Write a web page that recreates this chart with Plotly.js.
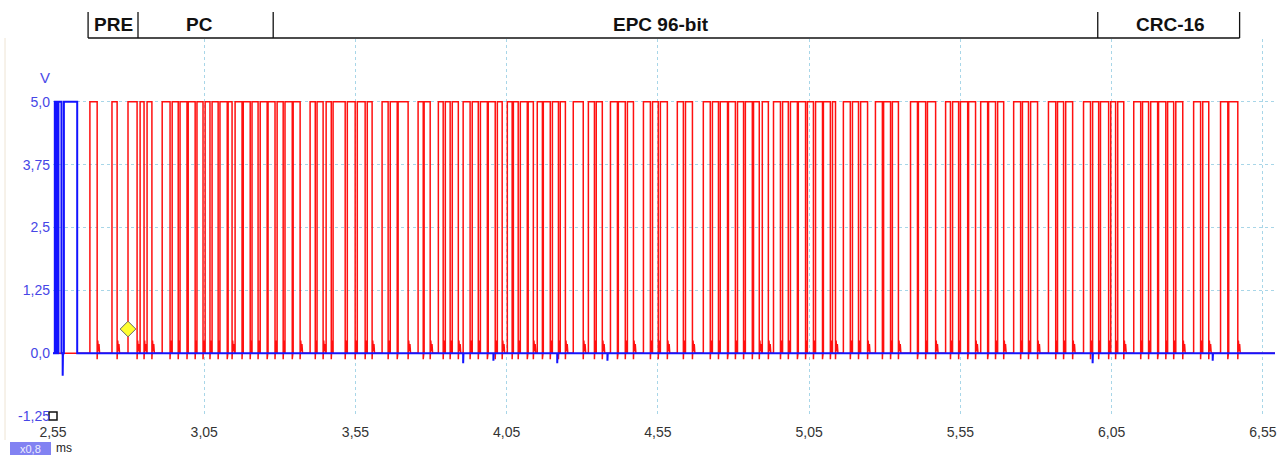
<!DOCTYPE html>
<html>
<head>
<meta charset="utf-8">
<script src="https://cdn.plot.ly/plotly-3.0.1.min.js"></script>
<style>html,body{margin:0;padding:0;background:#fff;}#chart{width:1284px;height:456px;}</style>
</head>
<body>
<div id="chart"></div>
<script>
// ---- data read from the capture (time in ms, level in V) ----
const redRise = [2.672, 2.745, 2.798, 2.838, 2.861, 2.911, 2.944, 2.970, 2.997, 3.026,
  3.053, 3.076, 3.102, 3.129, 3.152, 3.179, 3.208, 3.235, 3.261, 3.291,
  3.317, 3.344, 3.400, 3.423, 3.453, 3.476, 3.523, 3.556, 3.589, 3.638,
  3.665, 3.691, 3.757, 3.777, 3.824, 3.847, 3.870, 3.906, 3.936, 3.963,
  3.989, 4.019, 4.052, 4.072, 4.095, 4.121, 4.151, 4.171, 4.201, 4.227,
  4.270, 4.320, 4.346, 4.393, 4.419, 4.449, 4.502, 4.532, 4.558, 4.614,
  4.641, 4.700, 4.730, 4.756, 4.783, 4.813, 4.839, 4.866, 4.895, 4.932,
  4.962, 4.988, 5.014, 5.044, 5.071, 5.097, 5.127, 5.163, 5.193, 5.220,
  5.269, 5.296, 5.325, 5.385, 5.411, 5.441, 5.501, 5.524, 5.550, 5.577,
  5.617, 5.643, 5.673, 5.726, 5.755, 5.782, 5.841, 5.871, 5.898, 5.957,
  5.987, 6.013, 6.047, 6.070, 6.123, 6.152, 6.179, 6.205, 6.235, 6.262,
  6.321, 6.351, 6.410, 6.437];
const redFall = [2.696, 2.762, 2.828, 2.851, 2.877, 2.937, 2.964, 2.993, 3.020, 3.046,
  3.069, 3.096, 3.126, 3.142, 3.175, 3.202, 3.228, 3.258, 3.284, 3.311,
  3.341, 3.367, 3.417, 3.443, 3.470, 3.516, 3.549, 3.582, 3.605, 3.658,
  3.688, 3.724, 3.774, 3.797, 3.840, 3.863, 3.890, 3.929, 3.956, 3.986,
  4.012, 4.035, 4.068, 4.088, 4.118, 4.138, 4.168, 4.194, 4.221, 4.244,
  4.303, 4.340, 4.366, 4.416, 4.442, 4.469, 4.525, 4.551, 4.581, 4.634,
  4.664, 4.723, 4.750, 4.780, 4.806, 4.833, 4.862, 4.885, 4.915, 4.955,
  4.981, 5.011, 5.038, 5.064, 5.094, 5.120, 5.137, 5.186, 5.213, 5.243,
  5.292, 5.319, 5.345, 5.408, 5.435, 5.468, 5.517, 5.544, 5.574, 5.600,
  5.640, 5.666, 5.693, 5.749, 5.775, 5.805, 5.865, 5.891, 5.921, 5.980,
  6.007, 6.040, 6.063, 6.090, 6.146, 6.172, 6.202, 6.229, 6.255, 6.285,
  6.344, 6.371, 6.434, 6.467];
const highLevel = 5.0;

const blueRise = [2.556, 2.568, 2.586];
const blueFall = [2.562, 2.578, 2.630];
const blueSpikeT = [2.582, 3.906, 4.006, 4.217, 4.383, 5.987, 6.384];
const blueSpikeV = [-0.45, -0.2, -0.15, -0.2, -0.15, -0.2, -0.15];

const markerT = [2.798];
const markerV = [0.48];

const segStart = [2.666, 2.831, 3.278, 6.004];
const segEnd   = [2.831, 3.278, 6.004, 6.473];
const segLabels = ['PRE', 'PC', 'EPC 96-bit', 'CRC-16'];
const segLabelT = [2.749, 3.033, 4.561, 6.245];

const xTickVals = [2.55, 3.05, 3.55, 4.05, 4.55, 5.05, 5.55, 6.05, 6.55];
const xTickText = ['2,55', '3,05', '3,55', '4,05', '4,55', '5,05', '5,55', '6,05', '6,55'];
const yTickVals = [-1.25, 0, 1.25, 2.5, 3.75, 5.0, 6.25];
const yTickText = ['-1,25', '0,0', '1,25', '2,5', '3,75', '5,0', ''];

const xMin = 2.55, xMax = 6.59, yMin = -1.25, yMax = 6.25;

// ---- build step traces ----
function buildRed() {
  const x = [xMin], y = [0];
  for (let i = 0; i < redRise.length; i++) {
    const r = redRise[i], f = redFall[i];
    x.push(r, r, f, f); y.push(0, highLevel, highLevel, 0);
    const next = i + 1 < redRise.length ? redRise[i + 1] : xMax;
    // small settling ripple after the falling edge
    const tail = [[0, -0.12], [0.002, 0.25], [0.004, 0.04], [0.006, 0.18], [0.008, 0]];
    tail.forEach(([dt, v]) => { if (f + dt < next - 0.0015) { x.push(f + dt); y.push(v); } });
    x.push(Math.min(f + 0.009, next - 0.001)); y.push(0);
  }
  x.push(xMax); y.push(0);
  return {x, y};
}
function buildBlue() {
  const ev = [];
  for (let i = 0; i < blueRise.length; i++) ev.push({t: blueRise[i], kind: 'p', e: blueFall[i]});
  for (let i = 0; i < blueSpikeT.length; i++) ev.push({t: blueSpikeT[i], kind: 's', v: blueSpikeV[i]});
  ev.sort((a, b) => a.t - b.t);
  const x = [xMin], y = [0];
  ev.forEach(o => {
    if (o.kind === 'p') { x.push(o.t, o.t, o.e, o.e); y.push(0, highLevel, highLevel, 0); }
    else { x.push(o.t, o.t, o.t + 0.001); y.push(0, o.v, 0); }
  });
  x.push(xMax); y.push(0);
  return {x, y};
}
const red = buildRed(), blue = buildBlue();

const traces = [
  {x: red.x, y: red.y, type: 'scatter', mode: 'lines', line: {color: '#ff1010', width: 1.5}, hoverinfo: 'skip'},
  {x: blue.x, y: blue.y, type: 'scatter', mode: 'lines', line: {color: '#1414ff', width: 2}, hoverinfo: 'skip'},
  {x: markerT, y: markerV, type: 'scatter', mode: 'markers',
   marker: {symbol: 'diamond', size: 12, color: '#ffff30', line: {color: '#666', width: 1}}},
  {x: [xMin], y: [yMin], type: 'scatter', mode: 'markers', cliponaxis: false,
   marker: {symbol: 'square-open', size: 8, color: '#111', line: {width: 1.5}}}
];

// ---- layout ----
const plotTopPx = 39, plotBotPx = 416, plotH = plotBotPx - plotTopPx;
const py = p => (plotBotPx - p) / plotH;      // pixel row -> paper y
const shapes = [];
shapes.push({type: 'line', xref: 'x', yref: 'paper', x0: segStart[0], x1: segEnd[segEnd.length - 1],
  y0: py(38), y1: py(38), line: {color: '#111', width: 1.3}});
const bounds = segStart.concat([segEnd[segEnd.length - 1]]);
bounds.forEach(b => shapes.push({type: 'line', xref: 'x', yref: 'paper', x0: b, x1: b,
  y0: py(38), y1: py(12), line: {color: '#111', width: 1.3}}));
shapes.push({type: 'line', xref: 'paper', yref: 'paper', x0: (5 - 53) / 1222, x1: (5 - 53) / 1222,
  y0: py(440), y1: py(38), line: {color: '#eee4d4', width: 1}});
// unit badge box
shapes.push({type: 'rect', xref: 'paper', yref: 'paper', x0: (10 - 53) / 1222, x1: (51 - 53) / 1222,
  y0: py(455), y1: py(442), fillcolor: '#8282f2', line: {width: 0}});

const annotations = segLabels.map((s, i) => ({
  text: '<b>' + s + '</b>', x: segLabelT[i], xref: 'x', y: py(24), yref: 'paper',
  showarrow: false, xanchor: 'center', yanchor: 'middle',
  font: {family: 'Liberation Sans, Arial, sans-serif', size: 19, color: '#111'}
}));
annotations.push({text: 'V', xref: 'paper', yref: 'paper', x: (45 - 53) / 1222, y: py(77),
  showarrow: false, xanchor: 'center', yanchor: 'middle',
  font: {family: 'Liberation Sans, Arial, sans-serif', size: 15, color: '#4a4ae8'}});
annotations.push({text: 'x0,8', xref: 'paper', yref: 'paper', x: (30.5 - 53) / 1222, y: py(448.5),
  showarrow: false, xanchor: 'center', yanchor: 'middle', borderpad: 0,
  font: {family: 'Liberation Sans, Arial, sans-serif', size: 11, color: '#eeeeff'}});
annotations.push({text: 'ms', xref: 'paper', yref: 'paper', x: (55 - 53) / 1222, y: py(448),
  showarrow: false, xanchor: 'left', yanchor: 'middle', borderpad: 0,
  font: {family: 'Liberation Sans, Arial, sans-serif', size: 12, color: '#222'}});

const gridCol = '#a8d6e8';
const layout = {
  width: 1284, height: 456,
  margin: {l: 53, r: 9, t: plotTopPx, b: 456 - plotBotPx, pad: 0},
  paper_bgcolor: '#ffffff', plot_bgcolor: '#ffffff',
  showlegend: false,
  xaxis: {range: [xMin, xMax], tickvals: xTickVals, ticktext: xTickText, showgrid: true,
    gridcolor: gridCol, griddash: '3px,3px', gridwidth: 1, zeroline: false, showline: false,
    ticks: '', ticklabelstandoff: 6,
    tickfont: {family: 'Liberation Sans, Arial, sans-serif', size: 14, color: '#333'}, fixedrange: true},
  yaxis: {range: [yMin, yMax], tickvals: yTickVals, ticktext: yTickText, showgrid: true,
    gridcolor: gridCol, griddash: '3px,3px', gridwidth: 1, zeroline: false, showline: false,
    ticks: '', ticklabelstandoff: 2,
    tickfont: {family: 'Liberation Sans, Arial, sans-serif', size: 14, color: '#4646e6'}, fixedrange: true},
  shapes: shapes,
  annotations: annotations
};

Plotly.newPlot('chart', traces, layout, {staticPlot: true, displayModeBar: false});
</script>
</body>
</html>
